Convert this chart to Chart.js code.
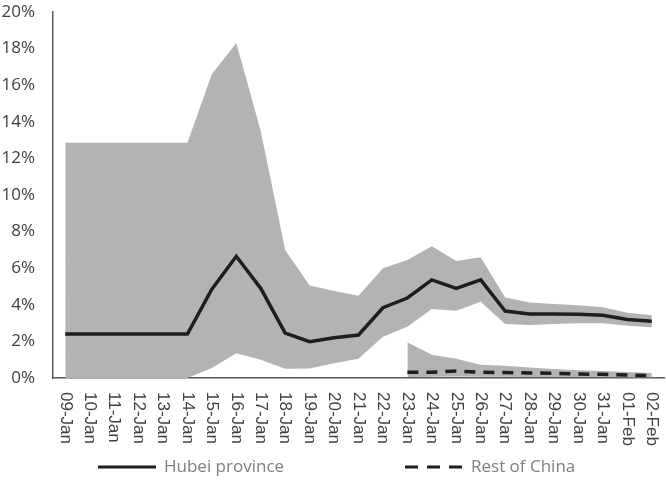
<!DOCTYPE html>
<html>
<head>
<meta charset="utf-8">
<script src="https://cdn.jsdelivr.net/npm/chart.js@4.4.1/dist/chart.umd.min.js"></script>
<style>
  html, body { margin: 0; padding: 0; background: #fff; }
  #wrap { width: 666px; height: 488px; }
</style>
</head>
<body>
<div id="wrap"><canvas id="chart" width="666" height="488"></canvas></div>
<script>
// Dates on the x axis
const categories = [
  "09-Jan", "10-Jan", "11-Jan", "12-Jan", "13-Jan", "14-Jan", "15-Jan", "16-Jan",
  "17-Jan", "18-Jan", "19-Jan", "20-Jan", "21-Jan", "22-Jan", "23-Jan", "24-Jan",
  "25-Jan", "26-Jan", "27-Jan", "28-Jan", "29-Jan", "30-Jan", "31-Jan", "01-Feb", "02-Feb"
];

// Hubei province (%), central estimate and band
const hubei = [2.4, 2.4, 2.4, 2.4, 2.4, 2.4, 4.85, 6.65, 4.9, 2.45, 1.98, 2.2, 2.35,
  3.84, 4.37, 5.36, 4.9, 5.36, 3.66, 3.5, 3.5, 3.48, 3.43, 3.2, 3.1];
const hubeiUpper = [12.85, 12.85, 12.85, 12.85, 12.85, 12.85, 16.6, 18.3, 13.5, 7.0, 5.05,
  4.75, 4.5, 6.0, 6.45, 7.2, 6.4, 6.6, 4.4, 4.12, 4.05, 3.97, 3.86, 3.57, 3.43];
const hubeiLower = [0, 0, 0, 0, 0, 0, 0.55, 1.35, 1.0, 0.5, 0.52, 0.8, 1.05,
  2.26, 2.8, 3.77, 3.68, 4.17, 2.95, 2.9, 2.95, 2.99, 2.99, 2.86, 2.77];

// Rest of China (%), only from 23-Jan
const rest = [null, null, null, null, null, null, null, null, null, null, null, null, null, null,
  0.31, 0.32, 0.38, 0.31, 0.3, 0.28, 0.25, 0.22, 0.2, 0.17, 0.13];
const restUpper = [null, null, null, null, null, null, null, null, null, null, null, null, null, null,
  1.95, 1.27, 1.05, 0.72, 0.67, 0.57, 0.49, 0.43, 0.38, 0.33, 0.27];
const restLower = [null, null, null, null, null, null, null, null, null, null, null, null, null, null,
  0.06, 0.07, 0.08, 0.07, 0.07, 0.06, 0.06, 0.05, 0.05, 0.04, 0.04];

// Y axis ticks
const yTicks = [0, 2, 4, 6, 8, 10, 12, 14, 16, 18, 20];

const BAND = "#b3b3b3";
const LINE = "#1e1e1e";
const AXIS = "#595959";
const TEXT = "#404040";
const X_FONT = "17px 'Liberation Sans', Arial, sans-serif";

// Draw the x labels reading top to bottom (Chart.js rotates the other way)
const downLabels = {
  id: "downLabels",
  afterDraw(chart) {
    const scale = chart.scales.x;
    const ctx = chart.ctx;
    ctx.save();
    ctx.fillStyle = TEXT;
    ctx.font = X_FONT;
    ctx.textAlign = "left";
    ctx.textBaseline = "middle";
    categories.forEach((label, i) => {
      ctx.save();
      ctx.translate(scale.getPixelForValue(i), scale.top + 14);
      ctx.rotate(Math.PI / 2);
      ctx.fillText(label, 0, 0);
      ctx.restore();
    });
    ctx.restore();
  }
};

// Legend spread out like the original
const wideLegend = {
  id: "wideLegend",
  afterDraw(chart) {
    const ctx = chart.ctx;
    const y = 467;
    const items = [
      { ds: chart.data.datasets[4], x: 98, dash: [] },
      { ds: chart.data.datasets[5], x: 405, dash: [13, 9] }
    ];
    ctx.save();
    ctx.font = "17px 'Open Sans', sans-serif";
    ctx.textBaseline = "middle";
    items.forEach((it) => {
      ctx.strokeStyle = it.ds.borderColor;
      ctx.lineWidth = 3;
      ctx.setLineDash(it.dash);
      ctx.beginPath();
      ctx.moveTo(it.x, y);
      ctx.lineTo(it.x + 58, y);
      ctx.stroke();
      ctx.setLineDash([]);
      ctx.fillStyle = "#7f7f7f";
      ctx.fillText(it.ds.label, it.x + 66, y);
    });
    ctx.restore();
  }
};

new Chart(document.getElementById("chart"), {
  type: "line",
  data: {
    labels: categories,
    datasets: [
      { label: "Hubei upper", data: hubeiUpper, fill: "+1", backgroundColor: BAND,
        borderWidth: 0, pointRadius: 0, order: 2 },
      { label: "Hubei lower", data: hubeiLower, fill: false,
        borderWidth: 0, pointRadius: 0, order: 2 },
      { label: "Rest upper", data: restUpper, fill: "+1", backgroundColor: BAND,
        borderWidth: 0, pointRadius: 0, order: 2 },
      { label: "Rest lower", data: restLower, fill: false,
        borderWidth: 0, pointRadius: 0, order: 2 },
      { label: "Hubei province", data: hubei, borderColor: LINE, borderWidth: 3.5,
        pointRadius: 0, fill: false, order: 0 },
      { label: "Rest of China", data: rest, borderColor: LINE, borderWidth: 3.5,
        borderDash: [11, 8], pointRadius: 0, fill: false, order: 0 }
    ]
  },
  options: {
    responsive: false,
    animation: false,
    layout: { padding: { left: 2, right: 2, top: 0, bottom: 0 } },
    plugins: {
      legend: { display: false },
      tooltip: { enabled: false }
    },
    scales: {
      x: {
        offset: true,
        grid: { display: false, drawTicks: false },
        border: { color: AXIS, width: 1.5 },
        ticks: { display: false },
        // room for the vertical labels and the legend below
        afterFit: (scale) => { scale.height = 110; }
      },
      y: {
        min: yTicks[0],
        max: yTicks[yTicks.length - 1],
        grid: { display: false, drawTicks: false },
        border: { color: AXIS, width: 1.5 },
        afterBuildTicks: (scale) => { scale.ticks = yTicks.map((v) => ({ value: v })); },
        afterFit: (scale) => {
          scale.width = 51;
          scale.paddingTop = 12;
          scale.paddingBottom = 0;
        },
        ticks: {
          color: TEXT,
          font: { family: "'Open Sans', sans-serif", size: 17 },
          padding: 18,
          callback: (v) => v + "%"
        }
      }
    }
  },
  plugins: [downLabels, wideLegend]
});
</script>
</body>
</html>
